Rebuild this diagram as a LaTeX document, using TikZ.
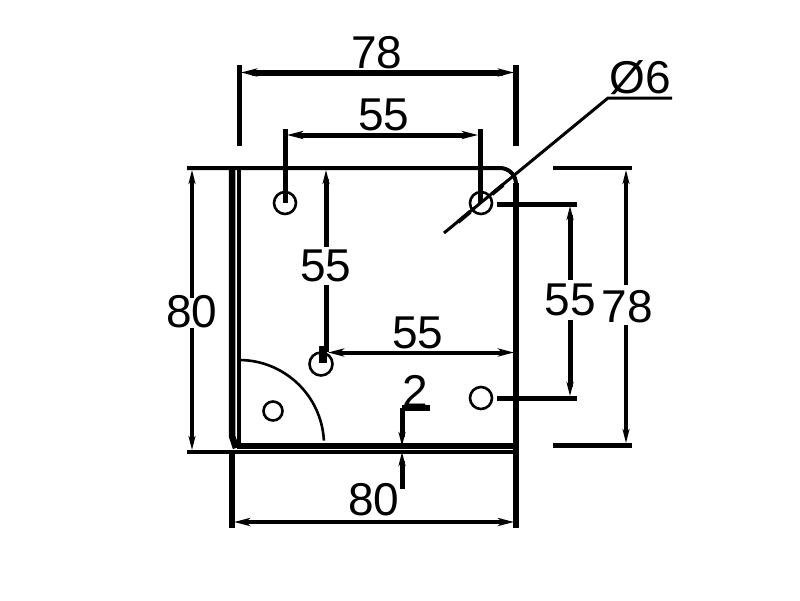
\documentclass[tikz,border=0pt]{standalone}
\usepackage{fontspec}
\setmainfont{Liberation Sans}
\usetikzlibrary{arrows.meta}
\tikzset{
  px/.style={x=1pt,y=-1pt},
  lw3/.style={line width=3pt},
  lw4/.style={line width=4pt},
  lw5/.style={line width=5pt},
  lw6/.style={line width=6pt},
  tip/.style={-{Stealth[length=14pt,width=7pt,inset=4pt]}},
  both/.style={{Stealth[length=16pt,width=8pt,inset=4pt]}-{Stealth[length=16pt,width=8pt,inset=4pt]}},
  hole/.style={line width=2.6pt},
  dimtext/.style={font=\fontsize{46}{46}\selectfont,inner sep=0pt,text=black}
}
\begin{document}
\begin{tikzpicture}[px]
\useasboundingbox (0,0) rectangle (800,600);
\fill[white] (0,0) rectangle (800,600);
% part outline
\draw[lw4] (187,168) -- (500,168) arc[start angle=-90,end angle=0,radius=16];
\draw[lw6] (516,183) -- (516,528);
\draw[line width=6.5pt] (232,168) -- (232,436) -- (236,448);
\draw[lw4] (239,168) -- (239,446);
\draw[lw6] (237,446) -- (516,446);
\draw[lw4] (187,452) -- (516,452);
\draw[lw6] (232,452) -- (232,528);
\draw[line width=2.6pt] (239,360) arc[start angle=-90,end angle=-3,radius=85];
% holes
\draw[hole] (285,203) circle[radius=11];
\draw[hole] (481,203) circle[radius=11];
\draw[hole] (321,364) circle[radius=11.5];
\draw[hole] (481,398) circle[radius=11];
\draw[hole] (273,411) circle[radius=9.5];
% top dimension 78
\draw[lw5] (239,65) -- (239,146);
\draw[lw6] (516,65) -- (516,146);
\draw[lw6,both] (241,72.5) -- (514,72.5);
% top dimension 55
\draw[lw5] (285,129) -- (285,203);
\draw[lw5] (480,129) -- (480,203);
\draw[lw5,both] (287,135) -- (478,135);
% left dimension 80
\draw[lw4,tip] (192,298) -- (192,170);
\draw[lw4,tip] (192,328) -- (192,450);
% inner vertical 55
\draw[lw5,tip] (326,247) -- (326,170);
\draw[lw5] (326,285) -- (326,352);
\draw[line width=8pt] (323,346) -- (323,363);
% inner horizontal 55
\draw[lw4,both] (328,352.5) -- (514,352.5);
% thickness 2
\draw[lw6] (402,408) -- (430,408);
\draw[lw5,tip] (402,408) -- (402,446);
\draw[lw5,tip] (402,489) -- (402,452);
% bottom dimension 80
\draw[lw4,both] (234,522) -- (514,522);
% right dimension 55
\draw[lw5] (497,204) -- (577,204);
\draw[lw5] (497,398.5) -- (577,398.5);
\draw[lw5,tip] (570,280) -- (570,206);
\draw[lw5,tip] (570,320) -- (570,396);
% right dimension 78
\draw[lw4] (553,168) -- (632,168);
\draw[lw5] (553,445) -- (632,445);
\draw[lw4,tip] (626,285) -- (626,170);
\draw[lw4,tip] (626,325) -- (626,443);
% diameter leader
\draw[lw3] (444,233) -- (608,98) -- (672,98);
\draw[lw4] (470,212) -- (458,222);
\draw[lw4] (492,194) -- (503,185);
% labels
\node[dimtext] (t78top) at (377,53) {78};
\node[dimtext] (t55top) at (384,115) {55};
\node[dimtext] (t80left) at (192,312) {80};
\node[dimtext] (t55in) at (326,266) {55};
\node[dimtext] (t55h) at (418,333) {55};
\node[dimtext] (t2) at (415,391) {2};
\node[dimtext] (t80bot) at (374,500) {80};
\node[dimtext] (t55r) at (570,300) {55};
\node[dimtext] (t78r) at (627,307) {78};
\node[dimtext] (tdia) at (640,78) {Ø6};
\end{tikzpicture}
\end{document}
